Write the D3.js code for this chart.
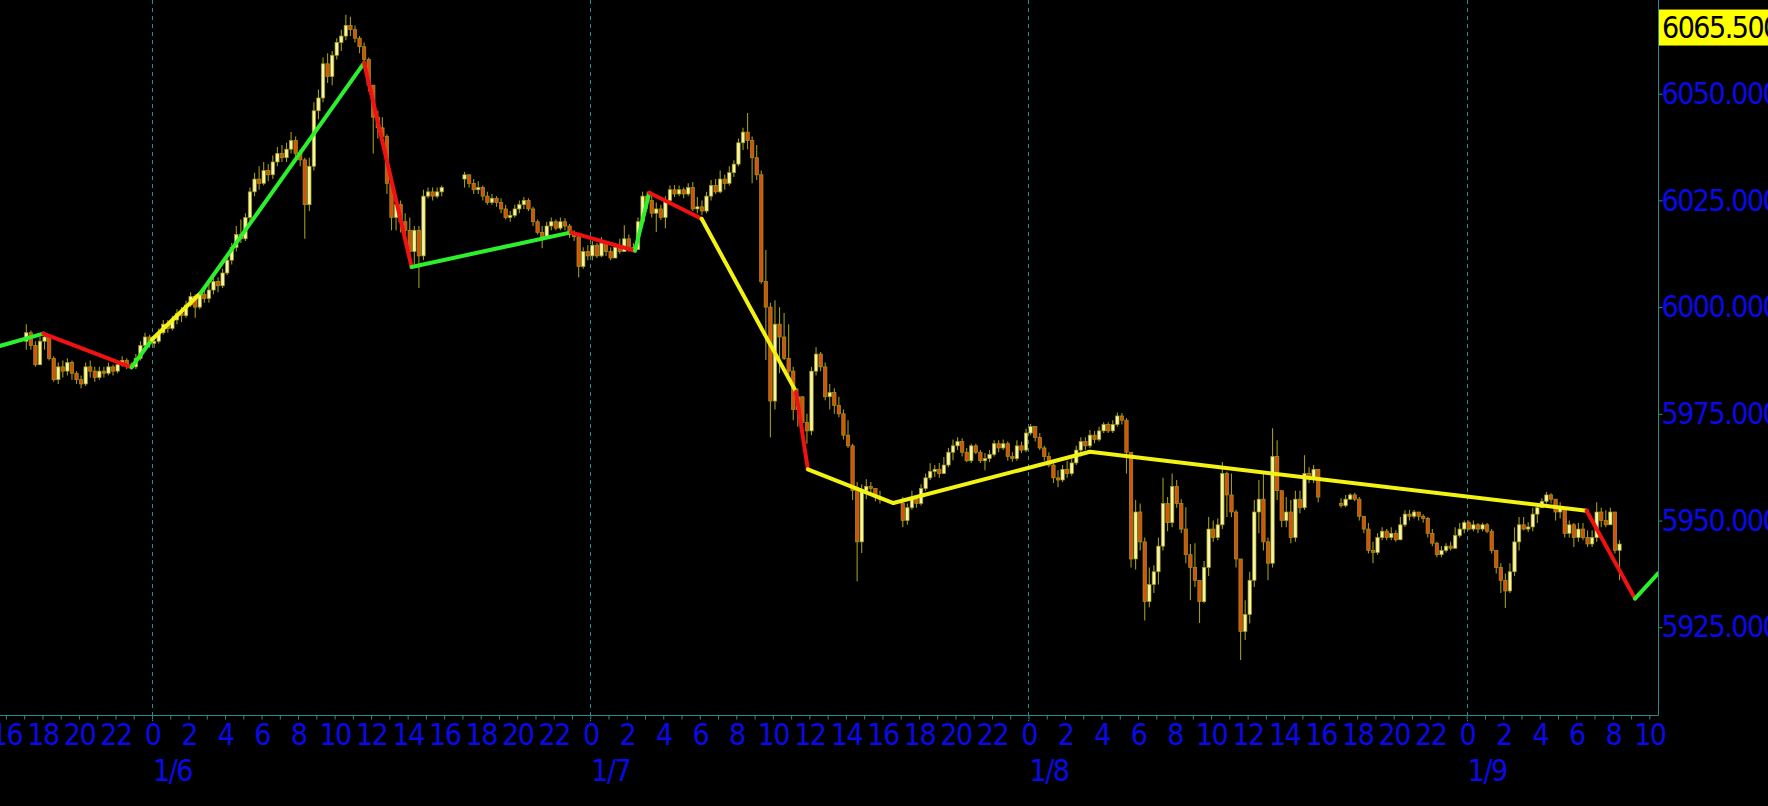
<!DOCTYPE html>
<html><head><meta charset="utf-8">
<script src="https://cdn.jsdelivr.net/npm/d3@7"></script>
<style>
html,body{margin:0;padding:0;background:#000;overflow:hidden}
svg{display:block}
text{font-family:"DejaVu Sans Condensed","DejaVu Sans",sans-serif;}
</style></head><body>
<svg id="chart" width="1768" height="806"></svg>
<script>
// ---------- DATA (15-minute bars) ----------
const sessionStarts = ["2025-01-05T17:00","2025-01-06T17:00","2025-01-07T17:00","2025-01-08T17:00"];
const sessionFirstOpen = [5992, 6030, 5954, 5954];

const closeJan5 = [5994,5991,5986.5,5992, 5993,5988,5983,5986, 5985,5987,5984.5,5983, 5982,5986,5985,5983.5, 5985,5984.5,5986,5985, 5986.5,5987.5,5986.5,5986, 5988,5991,5993,5991.5,
 5992,5994,5996,5995, 5997,5998.5,5998,6000.5, 6002.5,6000,6003,6002, 6004,6006,6005,6008, 6011,6014,6017,6016, 6021,6027,6030,6029, 6032,6031,6034,6036, 6035,6037,6039,6036,
 6034.5,6024,6033,6046, 6049,6057,6054,6059, 6062,6063.5,6066,6065, 6063,6061,6058,6052, 6044.5,6042,6040,6029, 6021,6024,6020,6018, 6013,6018,6012,6026, 6027,6026,6027,6028];
const highJan5 = [5996,5994.5,5992,5993, 5994,5993.5,5988.5,5987, 5987.5,5988,5987.5,5985, 5984,5987,5987.5,5986, 5986,5986,5987,5986.5, 5987.5,5988.5,5988,5987, 5989,5992,5994,5993.5,
 5993,5995,5997,5997, 5998,5999.5,6000,6001.5, 6003.5,6003,6003.5,6004, 6005.5,6007,6007,6009, 6012.5,6015,6019,6020.5, 6022,6028,6031.5,6033, 6034,6033.5,6035.5,6037.5, 6038,6038.5,6041,6040,
 6037,6035,6035,6048, 6051,6058.5,6059.5,6060, 6063,6065,6068.5,6068, 6066,6063.5,6062,6058.5, 6052,6046,6044.5,6040.5, 6028,6026,6025,6022, 6021,6019,6019,6027.5, 6028,6028,6028,6028.5];
const lowJan5 = [5990,5990,5986,5986.5, 5990,5987.5,5982.5,5982, 5983.5,5984,5983,5982, 5981,5981.5,5983.5,5982.5, 5983,5983.5,5984,5984, 5984.5,5986,5985.5,5985.5, 5985.5,5987.5,5990.5,5990.5,
 5990.5,5991.5,5993.5,5994, 5994.5,5996,5996.5,5997.5, 6000,5997.5,5999.5,6001, 6001,6003,6003.5,6004.5, 6007.5,6010,6013,6015, 6015.5,6020,6026,6027.5, 6028.5,6029.5,6030,6033, 6034,6034,6036,6035,
 6033,6016,6022.5,6032, 6044,6048,6052.5,6052, 6058,6060,6062.5,6063.5, 6062,6059.5,6056.5,6050.5, 6036,6039.5,6038.5,6026.5, 6018,6018,6017.5,6016.5, 6011,6010,6004.5,6011, 6025.5,6025,6025.5,6026];

const closeJan6 = [6031,6029,6027.5,6028, 6026,6024.5,6025.5,6024.5, 6023,6021,6021.5,6023, 6024,6025,6023,6020, 6017.5,6016.5,6019,6020, 6018.5,6020,6019,6017, 6016.5,6009.5,6013,6012,
 6014.5,6012,6015,6013, 6011.5,6014,6013,6016, 6014,6013.5,6020,6026, 6025,6022,6023,6021, 6025,6027.5,6026.5,6027.5, 6026.5,6028,6023,6023.5, 6022.5,6026,6028.5,6027, 6030,6029,6031.5,6033.5,
 6038.5,6041,6039,6035, 6031,6006,6000,5978, 5996,5993,5988,5985, 5976,5979,5973,5971, 5985,5989,5986,5979, 5980,5977,5975,5970, 5967.5,5957,5945,5957, 5958,5957.5,5955.5,5955];
const highJan6 = [6031.7,6031,6030,6029.5, 6028.5,6027,6026.5,6026, 6025.5,6024,6022.5,6024, 6025,6025.8,6025.5,6023.5, 6020.5,6019,6020,6021, 6020.5,6021,6020.8,6019.5, 6018,6017,6014,6014.5,
 6015.5,6015,6016.4,6015.5, 6014,6015,6016,6019.2, 6017,6015,6021,6027, 6027,6026.5,6024.5,6024, 6026,6028.5,6028.6,6028.5, 6028,6029,6029.3,6025.8, 6025,6027,6029.8,6030, 6032,6031,6033,6034.4,
 6039.5,6042,6045.5,6040, 6038,6032,6013.4,6001, 6001.6,6000,5998.6,5996, 5986,5981,5978,5975, 5986,5990.6,5989.5,5987, 5982,5981,5979,5976, 5973.5,5968,5959,5958.5, 5959.7,5959,5957.5,5957];
const lowJan6 = [6028,6028,6026.5,6026.5, 6025,6024,6024,6023.5, 6022,6020.5,6020,6021, 6022,6023,6022.5,6019, 6017,6013.8,6016,6018, 6018,6018,6018,6016.2, 6015.5,6007,6009,6011,
 6011,6011.5,6011.7,6012, 6011,6011.5,6012.5,6013, 6013,6013.2,6013.4,6019, 6023,6021,6017.6,6020.4, 6018.5,6024.5,6025.8,6026, 6025.5,6026,6022.5,6022, 6021.5,6022,6025,6026.5, 6026.7,6027.5,6028.5,6030.5,
 6033,6036.8,6037,6029, 6029.8,6005.5,5987.6,5969.5, 5976,5984.5,5987.6,5984, 5973.5,5972,5970.5,5968, 5970,5984,5985,5978.2, 5976,5975,5974.2,5969, 5967,5954.8,5935.8,5942.4, 5955,5956.4,5954.5,5954];

const closeJan7 = [5950,5953,5955,5954, 5957.5,5960,5961.5,5962, 5961,5963,5966,5967.5, 5968.5,5966,5964,5967.5, 5966,5964,5964.5,5965.5, 5968,5967,5968,5965, 5964.5,5967.5,5966.5,5970.5,
 5972,5969.5,5967,5965, 5963,5960,5959.5,5962, 5961,5963.5,5966.5,5968.5, 5967.5,5970,5969,5971, 5972.5,5971,5972.5,5974.5, 5973.5,5966,5941,5952, 5945,5931,5935,5938, 5944,5954,5949.5,5958,
 5954,5948,5942,5939, 5936,5931,5939,5948, 5946,5949,5961,5956, 5952,5941,5924,5928, 5936,5952,5955,5945, 5940,5965,5957,5950, 5952,5946,5955,5953, 5961,5960,5962,5955.5];
const highJan7 = [5955.5,5954,5957,5956, 5958.5,5961,5963.4,5963, 5963.5,5964.9,5967,5969, 5969.5,5969.3,5967,5968, 5968,5966.5,5965.8,5966.5, 5968.8,5968.8,5969,5968.5, 5966,5968.8,5968.5,5971.5,
 5972.6,5972,5970.5,5967.5, 5966,5963.5,5961.8,5963, 5964,5964.5,5967.5,5969.5, 5969.5,5971.2,5971,5972, 5973,5973,5973.5,5975.3, 5975.2,5974,5966,5954.8, 5954,5946,5939,5939.5, 5946,5960,5955.5,5961,
 5959.5,5955,5953.1,5944.5, 5944.7,5936,5940.5,5950.8, 5950,5950.5,5963.7,5961.5, 5961,5952.5,5941,5931.3, 5938,5954.8,5959.5,5961, 5946,5971.6,5968.8,5957, 5955.5,5954.8,5957,5957, 5965.3,5962.5,5963,5962];
const lowJan7 = [5948.4,5949,5952.5,5953, 5953.5,5957,5959.5,5960.2, 5960,5961.8,5962.5,5964.1, 5966.5,5965,5963.7,5963.5, 5965.5,5963.5,5961.8,5963.7, 5965,5966,5966.5,5964, 5963.8,5964,5965.8,5966,
 5970,5968.5,5966.5,5964, 5962.5,5958.8,5957.8,5959, 5960,5960.5,5963,5965, 5966.5,5967,5968.1,5968.5, 5970.5,5970.5,5970.5,5972, 5972.5,5961,5939,5938.5, 5943,5926.6,5929.7,5933, 5935,5943,5947.5,5948.4,
 5953,5947,5940,5931.3, 5934.4,5926,5930.6,5937, 5945,5945.4,5948,5950.8, 5950.8,5939,5917.3,5922, 5925.9,5934.4,5947,5943, 5936,5939,5954.8,5948.4, 5948.4,5944.7,5945,5951.7, 5952.5,5958.8,5958.8,5954.3];

const closeJan8 = [5953.5,5955,5956,5955, 5951,5948,5943,5942.5, 5946,5947.5,5946,5947, 5945.5,5949,5951.5,5951, 5952,5951,5950.5,5947, 5944.7,5942,5943,5944, 5943.5,5946.5,5948,5949.5,
 5948,5949,5948,5949, 5947.5,5943,5939,5936, 5933.5,5938,5945,5949, 5948,5948.5,5951.5,5953, 5954.5,5956,5955,5952, 5953,5947,5949,5946, 5948,5946,5944.5,5946, 5952,5950,5949,5952, 5943,5944.5];
const highJan8 = [5955.2,5956,5956.4,5956.5, 5955.5,5951,5949.4,5945, 5947,5948.4,5948,5948.4, 5947.7,5950.8,5952.4,5952.5, 5952.5,5952,5951.5,5950.8, 5948,5945,5944,5944.7, 5945,5948.4,5949.4,5950,
 5950,5950,5949.4,5949.5, 5949.4,5948,5943,5940, 5937.6,5940,5948.4,5950.8, 5950.8,5949.6,5953,5954, 5955.2,5956.7,5956.4,5955, 5954.3,5951.7,5950,5949.4, 5949.4,5949.4,5947.7,5947.7, 5954.3,5953,5952.4,5953, 5952,5945.4];
const lowJan8 = [5953,5953.1,5954.8,5954.5, 5950,5947,5942.3,5940, 5942,5945.4,5945.4,5945.4, 5945,5945.4,5948.5,5950, 5950.5,5950,5949.5,5946, 5944,5941.4,5941.4,5942.5, 5943,5945,5946,5947,
 5947.7,5947.5,5947,5947.5, 5947,5942.3,5937.6,5933, 5929.5,5933,5937,5943, 5947.7,5947.3,5947.5,5949.4, 5953.1,5954,5954,5950, 5950.5,5946,5946,5943.8, 5945,5945.4,5943.8,5943.8, 5945,5948.4,5948.4,5950, 5942.3,5936];

// zigzag indicator
const zigzagTimes = ["2025-01-05T15:40","2025-01-05T18:03","2025-01-05T22:53","2025-01-06T00:00","2025-01-06T02:40","2025-01-06T11:37",
 "2025-01-06T14:13","2025-01-06T22:57","2025-01-07T02:27","2025-01-07T03:14","2025-01-07T06:06","2025-01-07T11:16","2025-01-07T11:55",
 "2025-01-07T16:36","2025-01-08T03:22","2025-01-09T06:34","2025-01-09T09:13","2025-01-09T10:29"];
const zigzagPrices = [5990.9,5993.8,5985.9,5992.4,6003.3,6057.2,6009.4,6017.5,6013.2,6026.8,6020.7,5980.2,5962.0,5954.1,5966.1,5952.3,5931.7,5937.6];
const zigzagColors = ["g","r","g","y","g","r","g","r","g","r","y","r","y","y","y","r","g"];

// axis settings
const priceTicks = [5925,5950,5975,6000,6025,6050];
const currentPrice = 6065.5;
const viewStart = "2025-01-05T15:40:34";
const viewEnd   = "2025-01-09T10:28:30";
const priceMin = 5904.44, priceMax = 6071.95;

// ---------- DRAW ----------
const W = 1768, H = 806;
const plotR = 1658, plotB = 715;
const parseM = d3.utcParse("%Y-%m-%dT%H:%M");
const parseS = d3.utcParse("%Y-%m-%dT%H:%M:%S");
const svg = d3.select("#chart");
svg.append("rect").attr("width", W).attr("height", H).attr("fill", "#000");

const x = d3.scaleUtc().domain([parseS(viewStart), parseS(viewEnd)]).range([0, plotR]);
const y = d3.scaleLinear().domain([priceMin, priceMax]).range([plotB, 0]);

const teal = "#2c8a8a";
svg.append("defs").append("clipPath").attr("id","plotclip")
  .append("rect").attr("x",0).attr("y",0).attr("width",plotR).attr("height",plotB);

// vertical dashed day grid
const days = d3.utcDay.range(parseS(viewStart), parseS(viewEnd));
svg.append("g").selectAll("line").data(days).join("line")
  .attr("x1", d => Math.round(x(d)) + 0.5).attr("x2", d => Math.round(x(d)) + 0.5)
  .attr("y1", 0).attr("y2", plotB + 6)
  .attr("stroke", teal).attr("stroke-width", 1).attr("stroke-dasharray", "4,4");

// bars
const closes = [closeJan5, closeJan6, closeJan7, closeJan8];
const highs = [highJan5, highJan6, highJan7, highJan8];
const lows = [lowJan5, lowJan6, lowJan7, lowJan8];
const bars = [];
sessionStarts.forEach((s, k) => {
  const t0 = parseM(s);
  let prev = sessionFirstOpen[k];
  closes[k].forEach((c, i) => {
    bars.push({t: d3.utcMinute.offset(t0, i * 15 + 7.5), o: prev, c: c, h: highs[k][i], l: lows[k][i]});
    prev = c;
  });
});

const gBars = svg.append("g").attr("clip-path", "url(#plotclip)");
gBars.selectAll("line.wick").data(bars).join("line").attr("class","wick")
  .attr("x1", d => x(d.t)).attr("x2", d => x(d.t))
  .attr("y1", d => y(Math.max(d.h, d.o, d.c))).attr("y2", d => y(Math.min(d.l, d.o, d.c)))
  .attr("stroke", "#a09a16").attr("stroke-width", 1.1);
gBars.selectAll("rect.body").data(bars).join("rect").attr("class","body")
  .attr("x", d => x(d.t) - 1.7).attr("width", 3.4)
  .attr("y", d => y(Math.max(d.o, d.c)))
  .attr("height", d => Math.max(1, Math.abs(y(d.o) - y(d.c))))
  .attr("fill", d => d.c >= d.o ? "#f8f4a6" : "#d8500f")
  .attr("stroke", "#a09a16").attr("stroke-width", 0.7);

// zigzag
const colMap = {g: "#2cf02c", r: "#f01212", y: "#f2f213"};
const zz = zigzagTimes.map((t, i) => ({t: parseM(t), p: zigzagPrices[i]}));
const segs = zigzagColors.map((c, i) => ({a: zz[i], b: zz[i + 1], c: c}));
svg.append("g").attr("clip-path", "url(#plotclip)").selectAll("line").data(segs).join("line")
  .attr("x1", d => x(d.a.t)).attr("y1", d => y(d.a.p))
  .attr("x2", d => x(d.b.t)).attr("y2", d => y(d.b.p))
  .attr("stroke", d => colMap[d.c]).attr("stroke-width", 4).attr("stroke-linecap", "round");

// frame lines
svg.append("line").attr("x1", 0).attr("x2", plotR + 0.5).attr("y1", plotB + 0.5).attr("y2", plotB + 0.5)
  .attr("stroke", teal).attr("stroke-width", 1);
svg.append("line").attr("x1", plotR + 0.5).attr("x2", plotR + 0.5).attr("y1", 0).attr("y2", plotB + 0.5)
  .attr("stroke", teal).attr("stroke-width", 1);

// x axis (hours)
const labelCol = "#0a0ae6";
const xAxis = d3.axisBottom(x).ticks(d3.utcHour.every(1)).tickSize(4)
  .tickFormat(d => d.getUTCHours() % 2 === 0 ? String(d.getUTCHours()) : "");
const gx = svg.append("g").attr("transform", `translate(0,${plotB + 0.5})`).call(xAxis);
gx.select(".domain").remove();
gx.selectAll(".tick line").attr("stroke", teal);
gx.selectAll(".tick text").attr("fill", labelCol).attr("font-size", 30).attr("letter-spacing", -1.5)
  .attr("font-family", '"DejaVu Sans Condensed","DejaVu Sans",sans-serif').attr("y", 8).attr("dy", "0.71em");

// date labels
svg.append("g").selectAll("text").data(days).join("text")
  .attr("x", d => x(d) + 1).attr("y", 781)
  .attr("fill", labelCol).attr("font-size", 30).attr("letter-spacing", -1.5)
  .text(d => (d.getUTCMonth() + 1) + "/" + d.getUTCDate());

// y axis (right)
const yAxis = d3.axisRight(y).tickValues(priceTicks).tickSize(4).tickFormat(d3.format(".3f"));
const gy = svg.append("g").attr("transform", `translate(${plotR + 0.5},0)`).call(yAxis);
gy.select(".domain").remove();
gy.selectAll(".tick line").attr("stroke", teal);
gy.selectAll(".tick text").attr("fill", labelCol).attr("font-size", 30).attr("letter-spacing", -1.5)
  .attr("font-family", '"DejaVu Sans Condensed","DejaVu Sans",sans-serif').attr("x", 3);

// current price marker
const cy = y(currentPrice);
svg.append("rect").attr("x", plotR + 1).attr("y", cy - 18).attr("width", W - plotR).attr("height", 36).attr("fill", "#ffff00");
svg.append("text").attr("x", plotR + 4).attr("y", cy).attr("dy", "0.35em")
  .attr("fill", "#000").attr("font-size", 30).attr("letter-spacing", -1.5)
  .text(d3.format(".3f")(currentPrice));
</script>
</body></html>
